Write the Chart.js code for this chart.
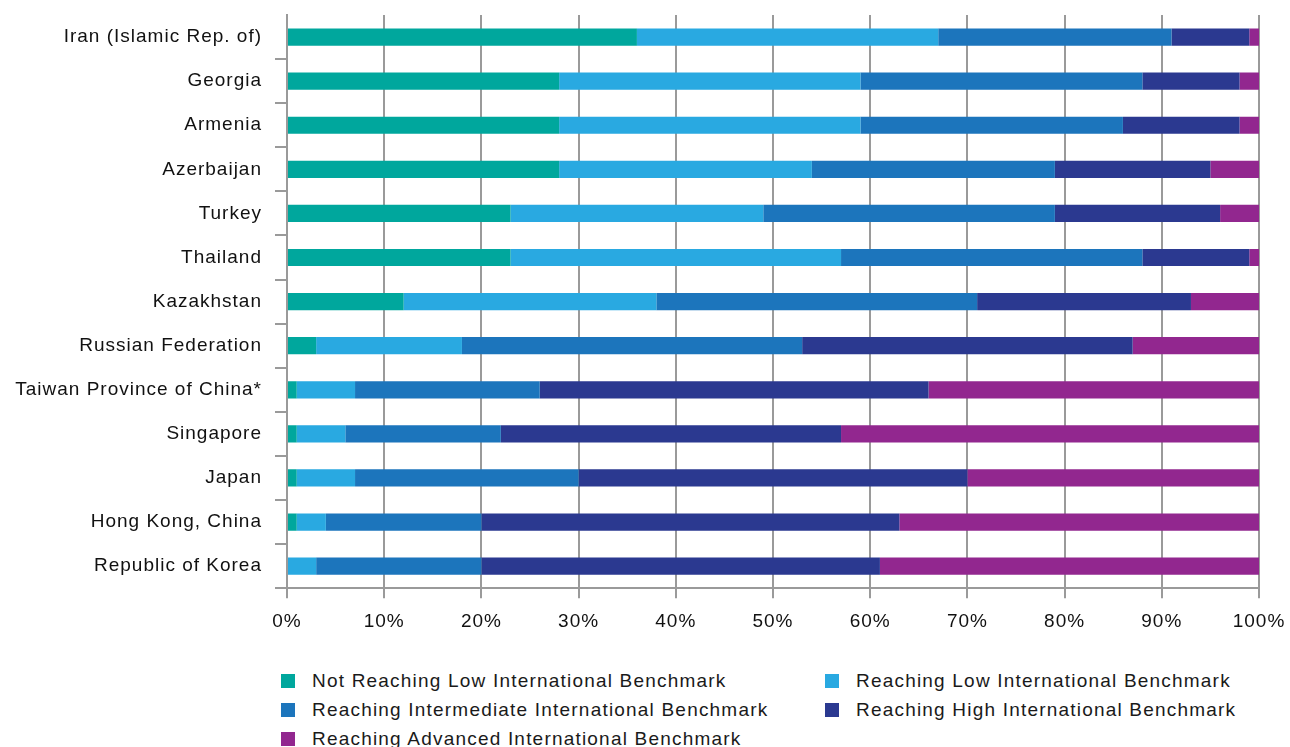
<!DOCTYPE html>
<html>
<head>
<meta charset="utf-8">
<script src="https://cdn.jsdelivr.net/npm/chart.js@4/dist/chart.umd.min.js"></script>
<style>
	body { margin: 0; background: #fff; }
	#wrap { position: relative; width: 1290px; height: 747px; }
	#chart { position: absolute; left: 0; top: 0; }
	#legend {
		position: absolute; left: 281px; top: 666px;
		display: grid; grid-template-columns: 544px 430px; grid-auto-rows: 29px;
		font-family: "Liberation Sans", Arial, sans-serif; font-size: 19px; letter-spacing: 1.2px; color: #1a1a1a;
	}
	#legend div { display: flex; align-items: center; white-space: nowrap; }
	#legend span.box { width: 14px; height: 14px; margin-right: 17px; display: inline-block; }
</style>
</head>
<body>
<div id="wrap">
	<canvas id="chart" width="1290" height="645"></canvas>
	<div id="legend"></div>
</div>
<script>
const countries = ["Iran (Islamic Rep. of)", "Georgia", "Armenia", "Azerbaijan", "Turkey", "Thailand", "Kazakhstan", "Russian Federation", "Taiwan Province of China*", "Singapore", "Japan", "Hong Kong, China", "Republic of Korea"]

const notLow =       [36, 28, 28, 28, 23, 23, 12, 3, 1, 1, 1, 1, 0]
const low =          [31, 31, 31, 26, 26, 34, 26, 15, 6, 5, 6, 3, 3]
const intermediate = [24, 29, 27, 25, 30, 31, 33, 35, 19, 16, 23, 16, 17]
const high =         [8, 10, 12, 16, 17, 11, 22, 34, 40, 35, 40, 43, 41]
const advanced =     [1, 2, 2, 5, 4, 1, 7, 13, 34, 43, 30, 37, 39]

const seriesNames = ["Not Reaching Low International Benchmark", "Reaching Low International Benchmark", "Reaching Intermediate International Benchmark", "Reaching High International Benchmark", "Reaching Advanced International Benchmark"]
const colors = ["#00a79d", "#29a9e1", "#1c75bc", "#2b3990", "#92278f"]
const xTicks = ["0%", "10%", "20%", "30%", "40%", "50%", "60%", "70%", "80%", "90%", "100%"]

const font = "'Liberation Sans', Arial, sans-serif"
const gridCol = "#9a9a9a"

let datasets = [notLow, low, intermediate, high, advanced].map((d, i) => {
	return {
		label: seriesNames[i],
		data: d,
		backgroundColor: colors[i],
		borderWidth: 0,
		barPercentage: 0.39,
		categoryPercentage: 1
	}
})

// reference type is a bit wider than Liberation Sans, so space the letters out a little
const spacing = {
	id: "spacing",
	beforeLayout: c => { c.ctx.letterSpacing = "1px" },
	beforeDraw: c => { c.ctx.letterSpacing = "1px" }
}

let chart = new Chart(document.querySelector("#chart").getContext("2d"), {
	type: 'bar',
	data: { labels: countries, datasets: datasets },
	plugins: [spacing],
	options: {
		indexAxis: 'y',
		responsive: false,
		animation: false,
		layout: { padding: { top: 15, right: 31, bottom: 0, left: 0 } },
		plugins: { legend: { display: false }, tooltip: { enabled: false } },
		scales: {
			x: {
				stacked: true,
				min: 0, max: 100,
				ticks: {
					stepSize: 10,
					color: "#111",
					font: { family: font, size: 19 },
					padding: 12,
					callback: (v, i) => xTicks[i]
				},
				grid: { color: gridCol, lineWidth: 2, tickLength: 10 },
				border: { color: gridCol, width: 2 },
				afterFit: scale => { scale.paddingLeft = 0; scale.paddingRight = 0 }
			},
			y: {
				stacked: true,
				ticks: { color: "#111", font: { family: font, size: 19 }, padding: 13 },
				grid: {
					drawOnChartArea: false,
					color: c => c.index === 0 ? "rgba(0,0,0,0)" : gridCol,
					lineWidth: 2, tickLength: 12, offset: true
				},
				border: { color: gridCol, width: 2 },
				afterFit: scale => { scale.width = 287; scale.paddingTop = 0; scale.paddingBottom = 0 }
			}
		}
	}
})

const legend = document.querySelector("#legend")
chart.data.datasets.forEach(ds => {
	let item = document.createElement("div")
	let box = document.createElement("span")
	box.className = "box"
	box.style.background = ds.backgroundColor
	item.appendChild(box)
	let txt = document.createElement("span")
	txt.innerText = ds.label
	item.appendChild(txt)
	legend.appendChild(item)
})
</script>
</body>
</html>
